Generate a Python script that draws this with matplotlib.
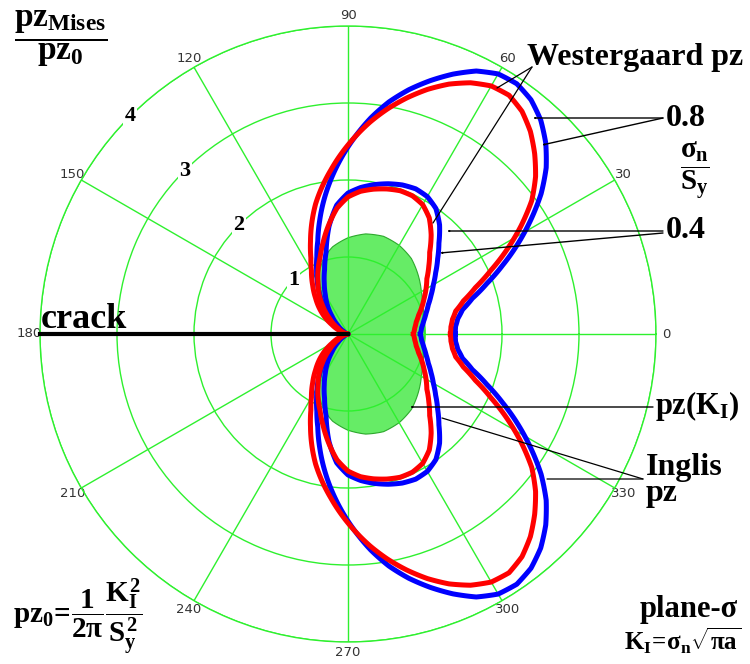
import numpy as np
import matplotlib

matplotlib.use("Agg")
import matplotlib.pyplot as plt

# ---- data: upper half of every plastic-zone loop (mirrored about the crack) --
# angle in degrees, radius in units of pz0
west_08_theta = [0, 4, 8, 12, 16, 20, 24, 28, 32, 36, 40, 44, 48, 52, 56, 60, 64, 68,
                 72, 76, 80, 84, 88, 92, 96, 100, 104, 108, 112, 116, 120, 126, 132,
                 140, 150, 160, 170, 180]
west_08_r = [1.39, 1.40, 1.44, 1.52, 1.68, 1.92, 2.20, 2.50, 2.80, 3.10, 3.36, 3.57,
             3.74, 3.86, 3.92, 3.90, 3.80, 3.64, 3.46, 3.27, 3.06, 2.82, 2.56, 2.30,
             2.04, 1.78, 1.52, 1.27, 1.08, 0.93, 0.80, 0.62, 0.46, 0.29, 0.14, 0.05,
             0.01, 0]

ingl_08_theta = [0, 4, 8, 12, 16, 20, 24, 28, 32, 36, 40, 44, 48, 52, 56, 60, 64, 68,
                 72, 76, 80, 84, 88, 92, 96, 100, 104, 108, 112, 116, 120, 126, 132,
                 138, 144, 150, 160, 170, 180]
ingl_08_r = [1.33, 1.34, 1.37, 1.43, 1.56, 1.76, 2.03, 2.34, 2.65, 2.95, 3.18, 3.37,
             3.54, 3.67, 3.74, 3.72, 3.63, 3.50, 3.34, 3.16, 2.97, 2.77, 2.56, 2.35,
             2.14, 1.94, 1.74, 1.52, 1.30, 1.10, 0.95, 0.78, 0.63, 0.50, 0.37, 0.24,
             0.09, 0.02, 0]

west_04_theta = [0, 5, 10, 15, 20, 25, 30, 35, 40, 45, 50, 55, 60, 65, 70, 75, 80,
                 85, 90, 95, 100, 105, 110, 115, 120, 126, 132, 140, 150, 165, 180]
west_04_r = [0.94, 0.96, 1.00, 1.05, 1.11, 1.19, 1.28, 1.39, 1.52, 1.67, 1.85, 1.99,
             2.06, 2.08, 2.06, 2.02, 1.97, 1.91, 1.83, 1.68, 1.42, 1.10, 0.89, 0.73,
             0.59, 0.45, 0.31, 0.17, 0.06, 0.01, 0]

ingl_04_theta = [0, 5, 10, 15, 20, 25, 30, 35, 40, 45, 50, 55, 60, 65, 70, 75, 80,
                 85, 90, 95, 100, 105, 110, 115, 120, 126, 132, 140, 150, 165, 180]
ingl_04_r = [0.85, 0.87, 0.90, 0.95, 1.02, 1.09, 1.17, 1.25, 1.37, 1.50, 1.68, 1.84,
             1.94, 1.98, 1.98, 1.95, 1.91, 1.86, 1.78, 1.64, 1.44, 1.24, 1.06, 0.92,
             0.78, 0.64, 0.49, 0.31, 0.15, 0.03, 0]

ki_theta = [0, 10, 20, 30, 40, 50, 60, 70, 80, 90, 100, 108, 115, 122, 130, 140,
            150, 160, 170, 180]
ki_r = [1.00, 1.005, 1.035, 1.10, 1.19, 1.28, 1.33, 1.35, 1.32, 1.25, 1.15, 1.03,
        0.88, 0.66, 0.44, 0.26, 0.13, 0.05, 0.01, 0]

rings = [1, 2, 3, 4]
ring_labels = ["1", "2", "3", "4"]
spokes = list(range(0, 360, 30))
crack_r = [0, 4]

RED = "#ff0000"
BLUE = "#0000ff"
GRID = "#2ef02e"
SERIF = "Liberation Serif"

plt.rcParams.update({
    "mathtext.fontset": "custom",
    "mathtext.rm": "Liberation Serif:bold",
    "mathtext.it": "Liberation Serif:bold",
    "mathtext.bf": "Liberation Serif:bold",
})

W, H = 750, 664


def px(x, y):
    return (x / W, 1 - y / H)


def loop(theta, r):
    t = np.deg2rad(np.asarray(theta, float))
    r = np.asarray(r, float)
    return np.concatenate([t, -t[::-1]]), np.concatenate([r, r[::-1]])


def smooth(artist):
    # let the polar transform draw each segment as a spiral arc, not a chord
    artist.get_path()._interpolation_steps = 20


fig = plt.figure(figsize=(7.5, 6.64), dpi=100)
fig.patch.set_facecolor("white")
cx, cy, R = 348, 334, 308
ax = fig.add_axes([(cx - R) / W, (H - cy - R) / H, 2 * R / W, 2 * R / H],
                  projection="polar")
ax.set_ylim(0, 4)
ax.set_rgrids(rings, labels=[""] * 4)
ax.set_thetagrids(spokes, labels=[str(a) for a in spokes],
                  fontsize=9.5, color="#333333", family="DejaVu Sans")
ax.tick_params(axis="x", pad=-3)
ax.grid(True, color=GRID, lw=1)
ax.spines["polar"].set_color(GRID)
ax.spines["polar"].set_linewidth(1)

t, r = loop(ki_theta, ki_r)
patch = ax.fill(t, r, facecolor="#55ea55", edgecolor="#20a020", lw=0.8, alpha=0.9,
                zorder=1)[0]
smooth(patch)

for th, rr, col in [(west_08_theta, west_08_r, BLUE), (ingl_08_theta, ingl_08_r, RED),
                    (west_04_theta, west_04_r, BLUE), (ingl_04_theta, ingl_04_r, RED)]:
    t, r = loop(th, rr)
    line, = ax.plot(t, r, color=col, lw=3.6, zorder=3, solid_joinstyle="round")
    smooth(line)

ax.plot([np.pi, np.pi], crack_r, color="black", lw=3, zorder=4, clip_on=False)

for rv, lab in zip(rings, ring_labels):
    ax.text(np.deg2rad(135), rv, lab, fontsize=16, fontweight="bold", family=SERIF,
            ha="center", va="center", zorder=5,
            bbox=dict(facecolor="white", edgecolor="none", pad=1))

# ---- labels ----------------------------------------------------------------
bold = dict(family=SERIF, fontweight="bold", color="black")
fig.text(*px(41, 319), "crack", fontsize=26, ha="left", va="center", **bold)
fig.text(*px(61, 39), r"$\dfrac{pz_{Mises}}{pz_0}$", fontsize=24, ha="center", va="center")
fig.text(*px(527, 57), "Westergaard pz", fontsize=23, ha="left", va="center", **bold)
fig.text(*px(666, 118), "0.8", fontsize=23, ha="left", va="center", **bold)
fig.text(*px(695, 171), r"$\dfrac{\sigma_n}{S_y}$", fontsize=21, ha="center", va="center")
fig.text(*px(666, 231), "0.4", fontsize=23, ha="left", va="center", **bold)
fig.text(*px(655, 406), r"$pz(K_I)$", fontsize=22, ha="left", va="center")
fig.text(*px(646, 467), "Inglis", fontsize=23, ha="left", va="center", **bold)
fig.text(*px(646, 494), "pz", fontsize=23, ha="left", va="center", **bold)
fig.text(*px(13, 617), r"$pz_0\!=\!\dfrac{1}{2\pi}\dfrac{K_I^2}{S_y^2}$", fontsize=21,
         ha="left", va="center")
fig.text(*px(738, 610), "plane-σ", fontsize=22, ha="right", va="center", **bold)
fig.text(*px(741, 641), r"$K_I\!=\!\sigma_n\sqrt{\pi a}$", fontsize=18, ha="right", va="center")

arrow = dict(arrowstyle="->,head_length=0.7,head_width=0.3", color="black", lw=1,
             shrinkA=0, shrinkB=0)
plain = dict(arrowstyle="-", color="black", lw=0.9, shrinkA=0, shrinkB=0)
for start, end, style in [((663, 118), (533, 118), arrow), ((663, 118), (542, 145), arrow),
                          ((663, 231), (447, 231), arrow), ((663, 233), (440, 253), arrow),
                          ((653, 407), (410, 407), arrow),
                          ((643, 479), (547, 479), plain), ((643, 479), (442, 418), plain),
                          ((532, 67), (497, 88), plain), ((532, 67), (433, 223), plain)]:
    fig.add_artist(matplotlib.patches.FancyArrowPatch(
        px(*start), px(*end), transform=fig.transFigure, **style))

fig.savefig("out.png", dpi=100)
